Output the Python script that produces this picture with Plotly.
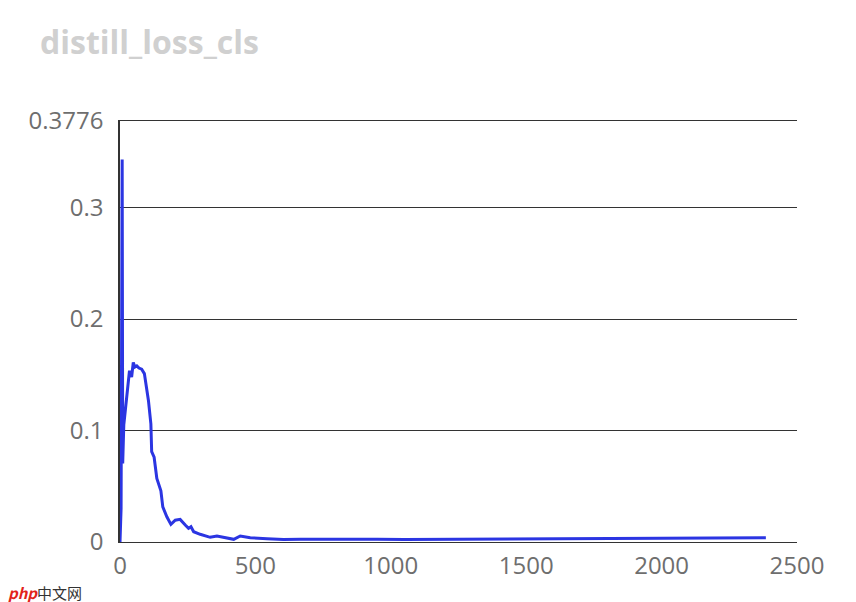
import plotly.graph_objects as go

# training step vs distill_loss_cls
steps = [0, 4, 8, 10, 14, 18, 26, 35, 43, 49, 55, 62, 70, 80, 90, 98, 105, 114, 117, 126,
         136, 151, 158, 173, 188, 204, 222, 241, 253, 262, 272, 296, 333, 358, 389, 420,
         444, 481, 543, 604, 667, 750, 850, 950, 1050, 1150, 1250, 1350, 1450, 1550,
         1650, 1750, 1850, 1950, 2050, 2120, 2200, 2280, 2330, 2385]
loss = [0.0, 0.03, 0.343, 0.0705, 0.105, 0.115, 0.13, 0.1536, 0.148, 0.161, 0.157, 0.158,
        0.156, 0.155, 0.151, 0.14, 0.127, 0.106, 0.081, 0.076,
        0.057, 0.046, 0.0315, 0.0226, 0.0158, 0.0196, 0.0203, 0.0152, 0.0122, 0.0137,
        0.0092, 0.0069, 0.0042, 0.0054, 0.0042, 0.0024,
        0.0054, 0.0038, 0.003, 0.0022, 0.0024, 0.0026, 0.0024, 0.0025, 0.0023, 0.0024,
        0.0025, 0.0024, 0.0026, 0.0024, 0.0025, 0.0026, 0.0026, 0.0027, 0.0028, 0.0032,
        0.0030, 0.0036, 0.0034, 0.0038]

y_ticks = [0, 0.1, 0.2, 0.3, 0.3776]
y_labels = ["0", "0.1", "0.2", "0.3", "0.3776"]
x_ticks = [0, 500, 1000, 1500, 2000, 2500]

fig = go.Figure()
fig.add_trace(go.Scatter(x=steps, y=loss, mode="lines",
                         line=dict(color="#2b35e2", width=3), showlegend=False))

# page body has an 8px margin, so the margins are shifted to line up with the reference
fig.update_layout(
    width=856, height=602,
    margin=dict(l=112, r=67, t=113, b=68),
    plot_bgcolor="white", paper_bgcolor="white",
    font=dict(family="Open Sans, Noto Sans, sans-serif", color="#6e6e6e", size=24),
    title=dict(text="<b>distill_loss_cls</b>", x=32 / 856, xanchor="left", y=0.942, yanchor="middle",
               font=dict(size=32, color="#d0d0d0")),
    # mirror draws the top line, which doubles as the 0.3776 gridline
    xaxis=dict(range=[0, 2500], tickvals=x_ticks, showgrid=False, zeroline=False,
               showline=True, mirror=True, linecolor="#333333", linewidth=1.3, ticks="",
               ticklabelstandoff=2),
    yaxis=dict(range=[0, 0.3776], tickvals=y_ticks, ticktext=y_labels, showgrid=True,
               gridcolor="#333333", gridwidth=1.2, zeroline=False,
               showline=True, linecolor="#333333", linewidth=1.5, ticks="",
               ticklabelstandoff=10),
)

fig.add_annotation(x=0, y=0, xref="paper", yref="paper", xshift=-114, yshift=-50,
                   xanchor="left", yanchor="middle", showarrow=False,
                   text="<i><b><span style='color:#e2231a'>php</span></b></i>"
                        "<span style='color:#333333'>中文网</span>",
                   font=dict(size=15, family="Noto Sans CJK SC, sans-serif"))

fig.write_html("out.html")
